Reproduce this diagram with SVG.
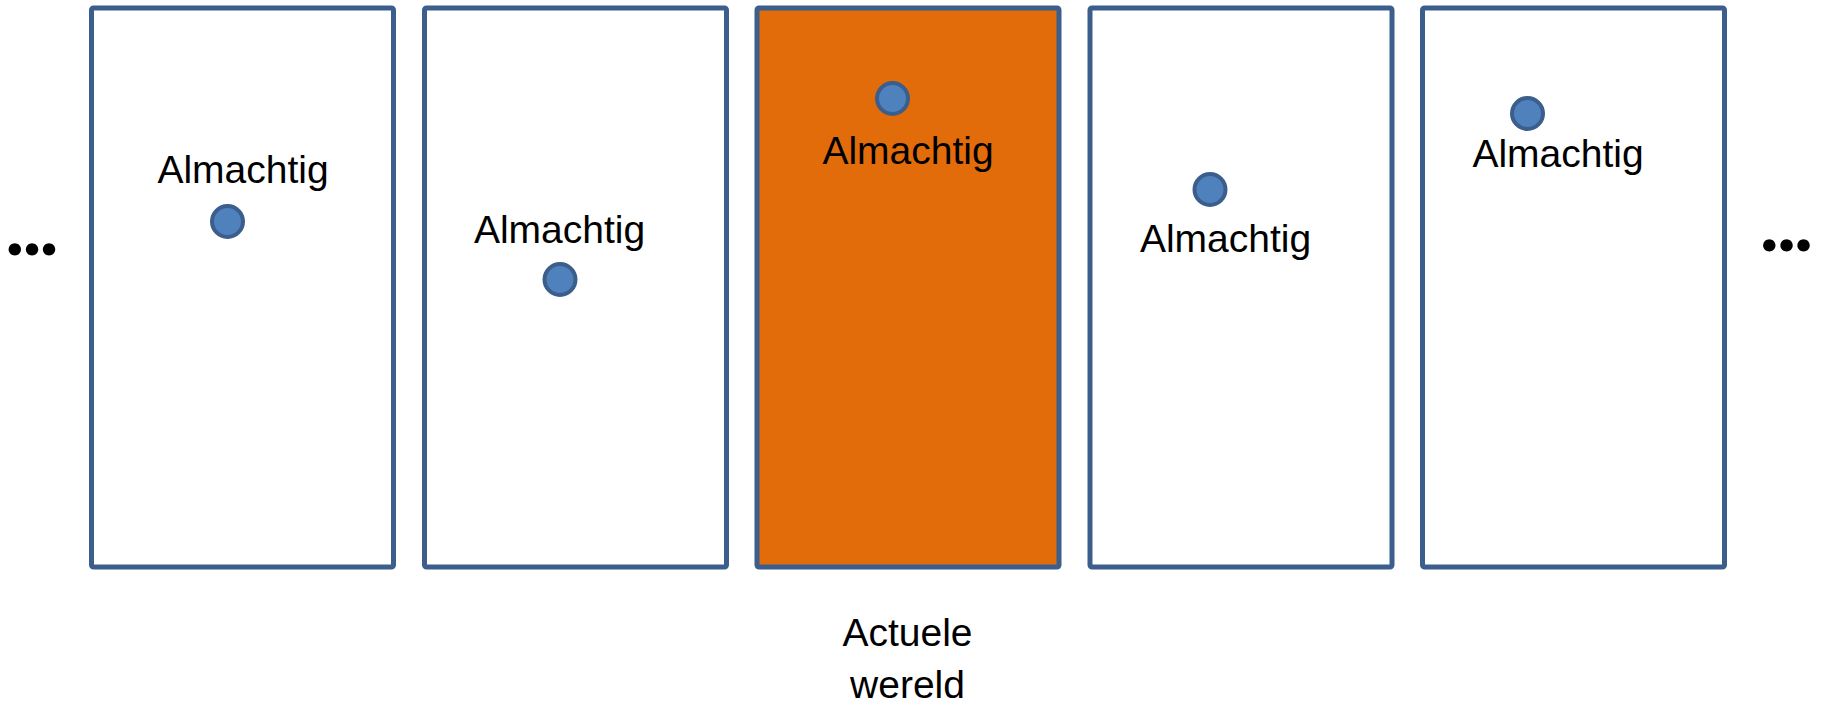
<svg xmlns="http://www.w3.org/2000/svg" width="1824" height="704" viewBox="0 0 1824 704">
<style>
.box{fill:#ffffff;stroke:#3B5E8C;stroke-width:5;}
.cur{fill:#E36C0A;}
.dot{fill:#4F81BD;stroke:#3B5E8C;stroke-width:4;}
.lbl{font-family:"Liberation Sans",Arial,sans-serif;font-size:39px;fill:#000;text-anchor:middle;}
.ell{font-family:Lato,"Liberation Sans",sans-serif;font-size:76px;font-weight:900;fill:#000;text-anchor:middle;letter-spacing:-1px;}
</style>
<rect width="1824" height="704" fill="#ffffff"/>
<g id="ellipsis-left"><text class="ell" x="31.5" y="255">...</text></g>
<g id="world1">
<rect class="box" x="91.5" y="8" width="302" height="559" rx="2"/>
<text class="lbl" x="243" y="183">Almachtig</text>
<circle class="dot" cx="227.5" cy="221.5" r="15.5"/>
</g>
<g id="world2">
<rect class="box" x="424.5" y="8" width="302" height="559" rx="2"/>
<text class="lbl" x="559.5" y="243">Almachtig</text>
<circle class="dot" cx="560" cy="279.5" r="15.5"/>
</g>
<g id="world3">
<rect class="box cur" x="757" y="8" width="302" height="559" rx="2"/>
<circle class="dot" cx="892.5" cy="98.5" r="15.5"/>
<text class="lbl" x="908" y="164">Almachtig</text>
</g>
<g id="world4">
<rect class="box" x="1090" y="8" width="302" height="559" rx="2"/>
<circle class="dot" cx="1210" cy="189.5" r="15.5"/>
<text class="lbl" x="1225.5" y="251.5">Almachtig</text>
</g>
<g id="world5">
<rect class="box" x="1422.5" y="8" width="302" height="559" rx="2"/>
<circle class="dot" cx="1527.5" cy="113.5" r="15.5"/>
<text class="lbl" x="1558" y="166.5">Almachtig</text>
</g>
<g id="ellipsis-right"><text class="ell" x="1786" y="251">...</text></g>
<g id="caption">
<text class="lbl" x="907.5" y="645.5">Actuele</text>
<text class="lbl" x="907.5" y="697.5">wereld</text>
</g>
<g id="connectors"></g>
</svg>
